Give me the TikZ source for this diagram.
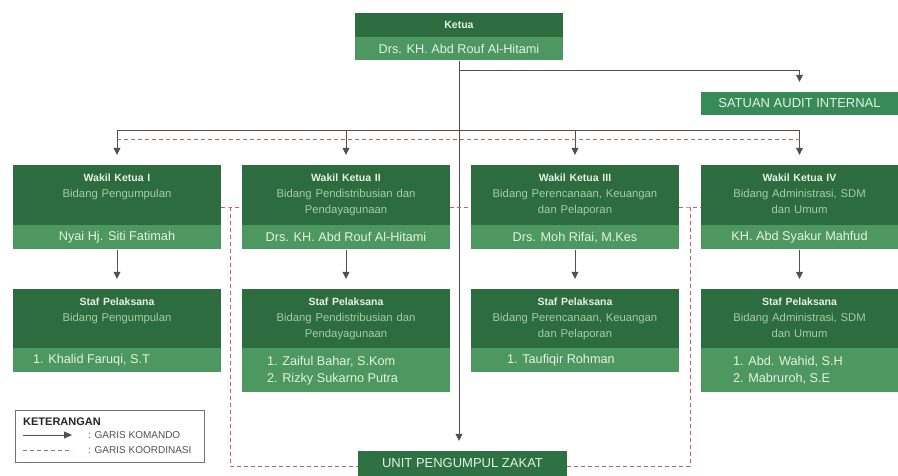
\documentclass[tikz,border=0pt]{standalone}
\usepackage{fontspec}
\setmainfont{Liberation Sans}
\usetikzlibrary{arrows.meta, positioning}
\definecolor{titleGreen}{RGB}{44, 108, 62}
\definecolor{nameGreen}{RGB}{76, 152, 96}
\definecolor{unitGreen}{RGB}{56, 138, 86}
\definecolor{subText}{RGB}{168, 204, 168}
\definecolor{nameText}{RGB}{230, 242, 228}
\definecolor{lineGray}{RGB}{80, 80, 80}
\definecolor{coordRed}{RGB}{205, 92, 92}
\newcommand{\headfont}{\bfseries\fontsize{10.5}{16}\selectfont}
\tikzset{
    % Rows of the boxes
    headRow/.style={
        rectangle,
        fill=titleGreen,
        inner sep=0pt,
        minimum width=208pt,
        text=nameText
    },
    nameRow/.style={
        rectangle,
        fill=nameGreen,
        inner sep=0pt,
        minimum width=208pt,
        minimum height=24pt,
        font=\fontsize{12.7}{17}\selectfont,
        text=nameText
    },
    headText/.style={text width=204pt, align=center, inner sep=0pt, font=\fontsize{11.3}{16}\selectfont, text=subText},
    staffText/.style={align=left, inner sep=0pt, font=\fontsize{12.7}{17}\selectfont, text=nameText},
    unitBox/.style={rectangle, fill=unitGreen, inner sep=0pt, minimum height=24pt, font=\fontsize{13}{15}\selectfont, text=nameText},
    % Lines
    garis/.style={draw=lineGray, line width=0.8pt},
    komando/.style={garis, -{Triangle[length=7pt, width=7pt]}, shorten >=10pt},
    koordinasi/.style={draw=coordRed, line width=0.6pt, dash pattern=on 4pt off 3pt},
    % Legend
    legendBox/.style={rectangle, draw=lineGray!80, line width=0.8pt, minimum width=189pt, minimum height=52pt},
    legendText/.style={anchor=west, inner sep=0pt, font=\fontsize{10}{12}\selectfont, text=lineGray}
}

\begin{document}
\begin{tikzpicture}[x=1pt, y=-1pt]

    \useasboundingbox[fill=white] (0,0) rectangle (898,476);

    % --- KETUA ---
    \node (ketua) [headRow, minimum height=24pt, font=\bfseries\fontsize{10.5}{12}\selectfont] at (459,25) {Ketua};
    \node (ketuaName) [nameRow, minimum height=23pt, below=0pt of ketua] {Drs. KH. Abd Rouf Al-Hitami};

    % --- SATUAN AUDIT INTERNAL ---
    \node (audit) [unitBox, minimum width=197pt, minimum height=23pt] at (799.5,103.5) {SATUAN AUDIT INTERNAL};

    % --- WAKIL KETUA ---
    \node (w1) [headRow, minimum height=60pt] at (117,195) {};
    \node (w1txt) [headText, below=9pt of w1.north] {{\headfont\color{nameText}Wakil Ketua I}\\ Bidang Pengumpulan};
    \node (w1name) [nameRow, below=0pt of w1] {Nyai Hj. Siti Fatimah};

    \node (w2) [headRow, minimum height=60pt] at (346,195) {};
    \node (w2txt) [headText, below=9pt of w2.north] {{\headfont\color{nameText}Wakil Ketua II}\\ Bidang Pendistribusian dan\\ Pendayagunaan};
    \node (w2name) [nameRow, below=0pt of w2] {Drs. KH. Abd Rouf Al-Hitami};

    \node (w3) [headRow, minimum height=60pt] at (575,195) {};
    \node (w3txt) [headText, below=9pt of w3.north] {{\headfont\color{nameText}Wakil Ketua III}\\ Bidang Perencanaan, Keuangan\\ dan Pelaporan};
    \node (w3name) [nameRow, below=0pt of w3] {Drs. Moh Rifai, M.Kes};

    \node (w4) [headRow, minimum width=197pt, minimum height=60pt] at (799.5,195) {};
    \node (w4txt) [headText, text width=193pt, below=9pt of w4.north] {{\headfont\color{nameText}Wakil Ketua IV}\\ Bidang Administrasi, SDM\\ dan Umum};
    \node (w4name) [nameRow, minimum width=197pt, below=0pt of w4] {KH. Abd Syakur Mahfud};

    % --- STAF PELAKSANA ---
    \node (s1) [headRow, minimum height=59pt] at (117,318.5) {};
    \node (s1txt) [headText, below=9pt of s1.north] {{\headfont\color{nameText}Staf Pelaksana}\\ Bidang Pengumpulan};
    \node (s1name) [nameRow, below=0pt of s1] {};
    \node (s1list) [staffText, right=20pt of s1name.west] {1. Khalid Faruqi, S.T};

    \node (s2) [headRow, minimum height=59pt] at (346,318.5) {};
    \node (s2txt) [headText, below=9pt of s2.north] {{\headfont\color{nameText}Staf Pelaksana}\\ Bidang Pendistribusian dan\\ Pendayagunaan};
    \node (s2name) [nameRow, minimum height=44pt, below=0pt of s2] {};
    \node (s2list) [staffText, right=25pt of s2name.west] {1. Zaiful Bahar, S.Kom\\ 2. Rizky Sukarno Putra};

    \node (s3) [headRow, minimum height=59pt] at (575,318.5) {};
    \node (s3txt) [headText, below=9pt of s3.north] {{\headfont\color{nameText}Staf Pelaksana}\\ Bidang Perencanaan, Keuangan\\ dan Pelaporan};
    \node (s3name) [nameRow, below=0pt of s3] {};
    \node (s3list) [staffText, right=36pt of s3name.west] {1. Taufiqir Rohman};

    \node (s4) [headRow, minimum width=197pt, minimum height=59pt] at (799.5,318.5) {};
    \node (s4txt) [headText, text width=193pt, below=9pt of s4.north] {{\headfont\color{nameText}Staf Pelaksana}\\ Bidang Administrasi, SDM\\ dan Umum};
    \node (s4name) [nameRow, minimum width=197pt, minimum height=44pt, below=0pt of s4] {};
    \node (s4list) [staffText, right=32pt of s4name.west] {1. Abd. Wahid, S.H\\ 2. Mabruroh, S.E};

    % --- UNIT PENGUMPUL ZAKAT ---
    \node (unit) [unitBox, minimum width=209pt, minimum height=25pt, fill=titleGreen!85!unitGreen] at (462.5,463.5) {UNIT PENGUMPUL ZAKAT};

    % --- Garis komando ---
    \coordinate (jAudit) at (459,70);
    \coordinate (jWakil) at (459,130);
    \draw [komando] (ketuaName) -- (ketuaName |- unit.north);
    \draw [komando] (jAudit) -| (audit);
    \draw [garis] (w1 |- jWakil) -- (w4 |- jWakil);
    \foreach \w in {w1,w2,w3,w4}
        \draw [komando] (\w |- jWakil) -- (\w);
    \draw [komando] (w1name) -- (s1);
    \draw [komando] (w2name) -- (s2);
    \draw [komando] (w3name) -- (s3);
    \draw [komando] (w4name) -- (s4);

    % --- Garis koordinasi ---
    \coordinate (jKoor) at (459,139);
    \coordinate (kL) at (230,207);
    \coordinate (kR) at (690,207);
    \coordinate (kLb) at (230,466);
    \coordinate (kRb) at (690,466);
    \draw [koordinasi, draw=coordRed!60!gray] (w1 |- jKoor) -- (w4 |- jKoor);
    \draw [koordinasi] (w1.east |- kL) -- (kL) -- (w2.west |- kL);
    \draw [koordinasi] (w2.east |- kL) -- (w3.west |- kL);
    \draw [koordinasi] (w3.east |- kR) -- (kR) -- (w4.west |- kR);
    \draw [koordinasi] (kL) -- (kLb) -- (unit.west |- kLb);
    \draw [koordinasi] (kR) -- (kRb) -- (unit.east |- kRb);

    % --- Keterangan ---
    \node (ket) [legendBox] at (109.5,436) {};
    \node (ketTitle) [legendText, font=\bfseries\fontsize{11}{13}\selectfont, text=black!85] at (23,422) {KETERANGAN};
    \coordinate (lgA) at (23,435);
    \coordinate (lgB) at (72,435);
    \coordinate (lgC) at (23,450);
    \coordinate (lgD) at (72,450);
    \draw [garis, -{Triangle[length=8pt, width=7pt]}] (lgA) -- (lgB);
    \draw [koordinasi, draw=coordRed!50!gray] (lgC) -- (lgD);
    \node (lgKomando) [legendText] at (88,435) {: GARIS KOMANDO};
    \node (lgKoor) [legendText] at (88,450) {: GARIS KOORDINASI};

\end{tikzpicture}
\end{document}
